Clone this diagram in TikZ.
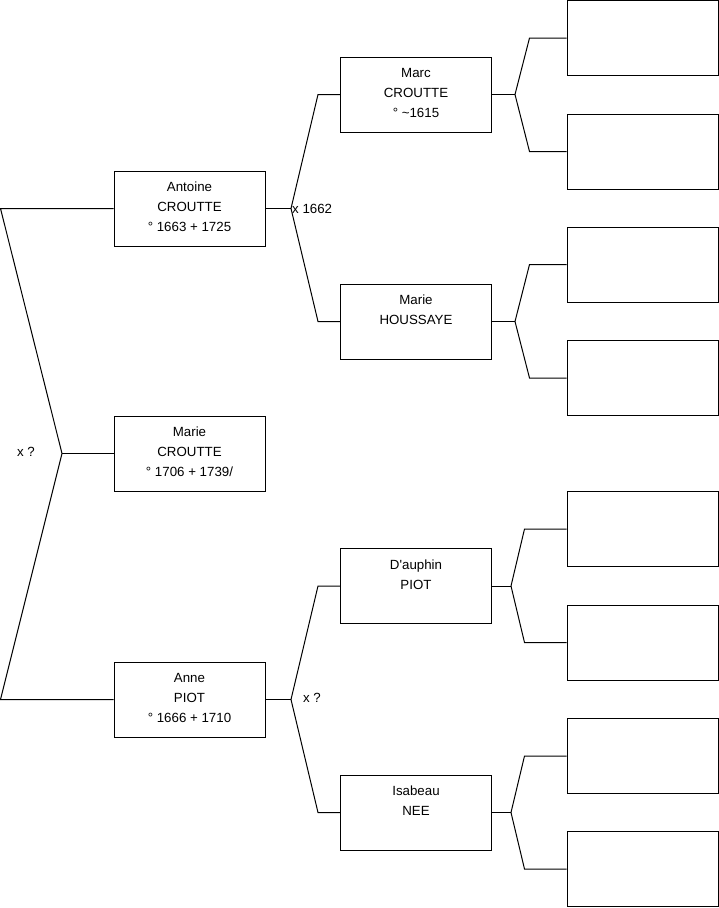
\documentclass[tikz,border=0pt]{standalone}
\usepackage{fontspec}
\setmainfont{Liberation Sans}

\tikzset{
  personbox/.style={draw, line width=1pt, minimum width=151pt, minimum height=75pt, inner sep=0pt, align=center, font=\fontsize{13.3}{20}\selectfont},
  linkline/.style={line width=1pt},
  marriage/.style={inner sep=1pt, font=\fontsize{13.3}{15}\selectfont}
}

\begin{document}
\begin{tikzpicture}[x=1pt, y=-1pt]
\useasboundingbox (0,0) rectangle (719,908);
% first generation
\node[personbox] (antoine) at (189.5,208.5) {Antoine\\CROUTTE\\° 1663 + 1725\vspace{3pt}};
\node[personbox] (marie) at (189.5,453.5) {Marie\\CROUTTE\\° 1706 + 1739/\vspace{3pt}};
\node[personbox] (anne) at (189.5,699.5) {Anne\\PIOT\\° 1666 + 1710\vspace{3pt}};
% parents
\node[personbox] (marc) at (416,94.5) {Marc\\CROUTTE\\° \textasciitilde1615\vspace{3pt}};
\node[personbox] (houssaye) at (416,321.5) {Marie\\HOUSSAYE\\\mbox{}\vspace{3pt}};
\node[personbox] (dauphin) at (416,586) {D\textquotesingle auphin\\PIOT\\\mbox{}\vspace{3pt}};
\node[personbox] (isabeau) at (416,812.5) {Isabeau\\NEE\\\mbox{}\vspace{3pt}};
% grandparents, empty
\node[personbox] (gp1) at (642.5,38) {};
\node[personbox] (gp2) at (642.5,151.5) {};
\node[personbox] (gp3) at (642.5,264.5) {};
\node[personbox] (gp4) at (642.5,378) {};
\node[personbox] (gp5) at (642.5,529) {};
\node[personbox] (gp6) at (642.5,642.5) {};
\node[personbox] (gp7) at (642.5,756) {};
\node[personbox] (gp8) at (642.5,869) {};

% forks
\coordinate (top) at (0.5,208.5);
\coordinate (bottom) at (0.5,699.5);
\coordinate (forkmarie) at (62,453.5);
\coordinate (forkantoine) at (291,208.5);
\coordinate (forkanne) at (291,699.5);
\coordinate (forkmarc) at (515,94.5);
\coordinate (forkhoussaye) at (515,321.5);
\coordinate (forkdauphin) at (511,586);
\coordinate (forkisabeau) at (511,812.5);

\draw[linkline] (antoine.west) -- (top) -- (forkmarie) -- (bottom) -- (anne.west);
\draw[linkline] (forkmarie) -- (marie.west);

\draw[linkline] (antoine.east) -- (forkantoine);
\draw[linkline] (marc.west) -- ++(-22,0) -- (forkantoine);
\draw[linkline] (houssaye.west) -- ++(-22,0) -- (forkantoine);

\draw[linkline] (anne.east) -- (forkanne);
\draw[linkline] (dauphin.west) -- ++(-22,0) -- (forkanne);
\draw[linkline] (isabeau.west) -- ++(-22,0) -- (forkanne);

\draw[linkline] (marc.east) -- (forkmarc);
\draw[linkline] (gp1.west) -- ++(-37,0) -- (forkmarc);
\draw[linkline] (gp2.west) -- ++(-37,0) -- (forkmarc);

\draw[linkline] (houssaye.east) -- (forkhoussaye);
\draw[linkline] (gp3.west) -- ++(-37,0) -- (forkhoussaye);
\draw[linkline] (gp4.west) -- ++(-37,0) -- (forkhoussaye);

\draw[linkline] (dauphin.east) -- (forkdauphin);
\draw[linkline] (gp5.west) -- ++(-42,0) -- (forkdauphin);
\draw[linkline] (gp6.west) -- ++(-42,0) -- (forkdauphin);

\draw[linkline] (isabeau.east) -- (forkisabeau);
\draw[linkline] (gp7.west) -- ++(-42,0) -- (forkisabeau);
\draw[linkline] (gp8.west) -- ++(-42,0) -- (forkisabeau);

% marriages
\node[marriage] (xleft) at (26,451.5) {x ?};
\node[marriage, anchor=west] (xantoine) at (forkantoine) {x 1662};
\node[marriage] (xanne) at (312,697.5) {x ?};
\end{tikzpicture}
\end{document}
